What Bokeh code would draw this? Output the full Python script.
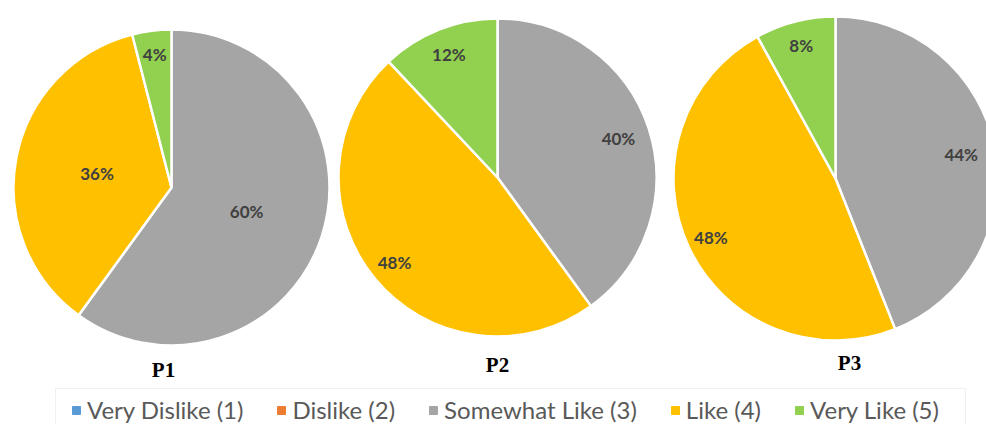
import numpy as np
from bokeh.plotting import figure
from bokeh.models import Range1d, ColumnDataSource, Legend, LegendItem
from bokeh.core.properties import value
from bokeh.embed import file_html
from bokeh.resources import INLINE

# Survey answers per product, in percent
categories = ["Very Dislike (1)", "Dislike (2)", "Somewhat Like (3)", "Like (4)", "Very Like (5)"]
colors = ["#5B9BD5", "#ED7D31", "#A5A5A5", "#FFC000", "#92D050"]
products = ["P1", "P2", "P3"]
p1_share = [0, 0, 60, 36, 4]
p2_share = [0, 0, 40, 48, 12]
p3_share = [0, 0, 44, 48, 8]
shares = [p1_share, p2_share, p3_share]

W, H = 986, 424

# Pie layout in page pixels (x from left, y from top)
pie_centers = [(171, 187), (497, 177), (835, 178)]
pie_radii = [158, 159, 162]
# radial position of each slice label as a fraction of the radius
label_fracs = [
    [0, 0, 0.50, 0.48, 0.85],
    [0, 0, 0.80, 0.84, 0.83],
    [0, 0, 0.79, 0.85, 0.85],
]
title_pos = [(163, 369), (497, 364), (849, 362)]

p = figure(width=W, height=H, output_backend="svg", toolbar_location=None,
           x_range=Range1d(0, W), y_range=Range1d(0, H),
           x_axis_location=None, y_axis_location=None, min_border=0)
p.outline_line_color = None
p.xgrid.visible = False
p.ygrid.visible = False
p.background_fill_color = "white"

# faint legend frame
p.quad(left=[55], right=[965], bottom=[-5], top=[H - 388], fill_alpha=0,
       line_color="#f0f0f0", line_width=1)

for k, share in enumerate(shares):
    cx, cy_top = pie_centers[k]
    cy = H - cy_top
    r = pie_radii[k]
    vals = np.array(share, dtype=float)
    frac = vals / vals.sum()
    cum = np.concatenate([[0], np.cumsum(frac)])
    keep = vals > 0
    # clockwise from 12 o'clock
    start = np.pi / 2 - 2 * np.pi * cum[1:]
    end = np.pi / 2 - 2 * np.pi * cum[:-1]
    mid = (start + end) / 2
    lf = np.array(label_fracs[k])
    src = ColumnDataSource(dict(
        x=[cx] * keep.sum(), y=[cy] * keep.sum(),
        start=start[keep], end=end[keep],
        color=[c for c, kk in zip(colors, keep) if kk],
        lx=(cx + lf * r * np.cos(mid))[keep],
        ly=(cy + lf * r * np.sin(mid))[keep],
        txt=[f"{int(v)}%" for v in vals[keep]],
    ))
    p.wedge(x="x", y="y", radius=r, start_angle="start", end_angle="end",
            direction="anticlock", fill_color="color", line_color="white",
            line_width=2.5, source=src)
    p.text(x="lx", y="ly", text="txt", source=src, text_align="center",
           text_baseline="middle", text_font=value("Lato"), text_font_style="bold",
           text_font_size="17px", text_color="#404040")
    tx, ty = title_pos[k]
    p.text(x=[tx], y=[H - ty], text=[products[k]], text_align="center",
           text_baseline="middle", text_font=value("Liberation Serif"),
           text_font_style="bold", text_font_size="21px", text_color="#000000")

# legend entries
items = []
for cat, col in zip(categories, colors):
    rr = p.scatter(x=[-100], y=[-100], marker="square", fill_color=col, line_color=col)
    items.append(LegendItem(label=cat, renderers=[rr]))
legend = Legend(items=items, orientation="horizontal", location=(66, 0),
                glyph_width=20, glyph_height=20, label_standoff=1, spacing=28,
                padding=0, margin=0, label_text_font="Lato", label_text_font_size="24px",
                label_text_color="#595959", border_line_alpha=0, background_fill_alpha=0)
p.add_layout(legend)

open("out.html", "w").write(file_html(p, INLINE))
